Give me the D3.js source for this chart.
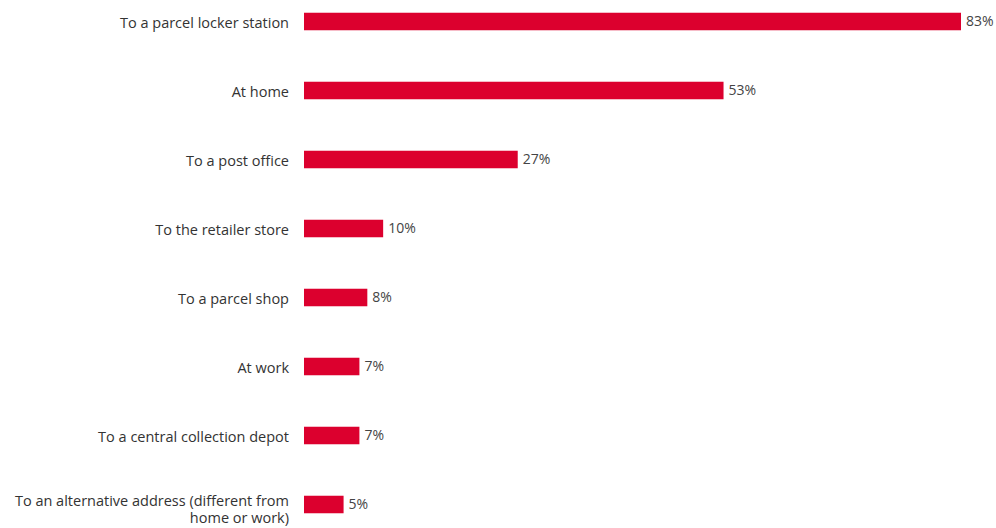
<!DOCTYPE html>
<html><head><meta charset="utf-8">
<script src="https://cdn.jsdelivr.net/npm/d3@7"></script>
<style>html,body{margin:0;padding:0;background:#fff;}svg{display:block;}</style>
</head><body><svg id="c" width="996" height="528"></svg>
<script>
const categories = ["To a parcel locker station","At home","To a post office","To the retailer store","To a parcel shop","At work","To a central collection depot","To an alternative address (different from|home or work)"];
const values = [83,53,27,10,8,7,7,5];
const valueLabels = ["83%","53%","27%","10%","8%","7%","7%","5%"];

const svg = d3.select("#c");
const x = d3.scaleLinear().domain([0,83]).range([304,961]);
const y = d3.scaleBand().domain(categories).range([-13,539]).paddingInner(0.746).paddingOuter(0.373);
const font = "'Open Sans', sans-serif";

svg.selectAll("rect.bar").data(categories).join("rect")
  .attr("class","bar")
  .attr("x", x(0))
  .attr("y", d=>y(d))
  .attr("width", (d,i)=>x(values[i])-x(0))
  .attr("height", y.bandwidth())
  .attr("fill","#dc002e");

svg.selectAll("text.val").data(categories).join("text")
  .attr("class","val")
  .attr("x",(d,i)=>x(values[i])+5)
  .attr("y", d=>y(d)+y.bandwidth()/2)
  .attr("dy","0.35em")
  .attr("font-family",font).attr("font-size",14)
  .attr("fill","#444")
  .text((d,i)=>valueLabels[i]);

svg.selectAll("text.cat").data(categories).join("text")
  .attr("class","cat")
  .attr("text-anchor","end")
  .attr("font-family",font).attr("font-size",14.5)
  .attr("fill","#333")
  .each(function(d){
    const lines = d.split("|");
    const t = d3.select(this);
    const cy = y(d)+y.bandwidth()/2;
    const off = lines.length > 1 ? -3.5 : 1;
    lines.forEach((l,k)=>{
      t.append("tspan").attr("x",289).attr("y", cy + off + k*16.5).attr("dy","0.35em").text(l);
    });
  });
</script></body></html>
